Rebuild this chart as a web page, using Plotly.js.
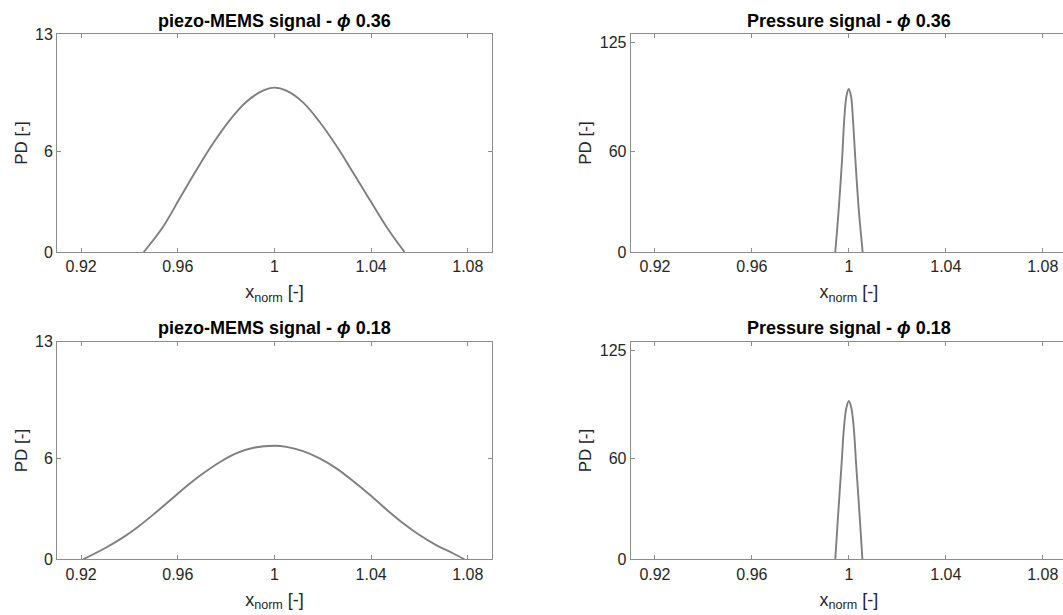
<!DOCTYPE html>
<html><head><meta charset="utf-8">
<script src="https://cdn.plot.ly/plotly-3.0.1.min.js"></script>
<style>html,body{margin:0;padding:0;overflow:hidden;background:#fff;width:1063px;height:615px}#chart{width:1067px;height:615px}</style>
</head><body><div id="chart"></div>
<script>
// ---- data ----
const xTickVals = [0.92, 0.96, 1.00, 1.04, 1.08];
const xTickText = ['0.92', '0.96', '1', '1.04', '1.08'];
const memsTickVals = [0, 6, 13];
const pressTickVals = [0, 60, 125];

const titles = [
  'piezo-MEMS signal - <i>ϕ</i> 0.36',
  'Pressure signal - <i>ϕ</i> 0.36',
  'piezo-MEMS signal - <i>ϕ</i> 0.18',
  'Pressure signal - <i>ϕ</i> 0.18'
];

const mems036X = [0.9459, 0.9539, 0.9608, 0.9677, 0.9746, 0.9815, 0.9884, 0.9952, 1.0000, 1.0049, 1.0118, 1.0187, 1.0256, 1.0325, 1.0394, 1.0463, 1.0538];
const mems036Y = [0, 1.51, 3.20, 4.89, 6.48, 7.87, 8.96, 9.62, 9.80, 9.62, 8.92, 7.75, 6.33, 4.74, 3.12, 1.51, 0];

const press036X = [0.9944, 0.9958, 0.9972, 0.9981, 0.9990, 0.9999, 1.0009, 1.0017, 1.0027, 1.0041, 1.0057];
const press036Y = [0, 25.1, 55.0, 79.0, 92.9, 97.3, 92.9, 79.0, 55.0, 25.1, 0];

const mems018X = [0.9208, 0.9298, 0.9367, 0.9436, 0.9505, 0.9574, 0.9642, 0.9711, 0.9780, 0.9849, 0.9918, 1.0000, 1.0049, 1.0118, 1.0187, 1.0256, 1.0325, 1.0394, 1.0463, 1.0531, 1.0600, 1.0669, 1.0738, 1.0786];
const mems018Y = [0, 0.66, 1.25, 1.95, 2.75, 3.60, 4.44, 5.20, 5.86, 6.37, 6.68, 6.78, 6.72, 6.46, 6.03, 5.43, 4.68, 3.86, 2.98, 2.17, 1.45, 0.85, 0.36, 0];

const press018X = [0.9944, 0.9956, 0.9970, 0.9980, 0.9990, 1.0000, 1.0010, 1.0020, 1.0030, 1.0044, 1.0056];
const press018Y = [0, 27.0, 57.0, 79.0, 90.7, 94.6, 90.7, 79.0, 57.0, 27.0, 0];

// ---- styling ----
const W = 1067, H = 615;
const FONT = 'Liberation Sans, Arial, Helvetica, sans-serif';
const axisColor = '#8c8c8c';
const textColor = '#262626';
const lineColor = '#7f7f7f';

const colL = [57 / W, 492 / W];
const colR = [630.7 / W, 1.0];
const rowT = [1 - 252 / H, 1 - 34 / H];
const rowB = [1 - 559.3 / H, 1 - 341.7 / H];

function xaxis(domain, anchor) {
  return {
    domain: domain, anchor: anchor, range: [0.91, 1.09],
    tickmode: 'array', tickvals: xTickVals, ticktext: xTickText,
    ticks: 'inside', ticklen: 4, tickwidth: 1, tickcolor: axisColor,
    showline: true, linecolor: axisColor, linewidth: 1, mirror: 'ticks',
    showgrid: false, zeroline: false, fixedrange: true,
    tickfont: {family: FONT, size: 16, color: textColor},
    title: {text: 'x<sub>norm</sub> [-]', font: {family: FONT, size: 18, color: textColor}, standoff: 11}
  };
}
function yaxis(domain, anchor, range, tv) {
  return {
    domain: domain, anchor: anchor, range: range,
    tickmode: 'array', tickvals: tv, ticktext: tv.map(String),
    ticks: 'inside', ticklen: 4, tickwidth: 1, tickcolor: axisColor,
    showline: true, linecolor: axisColor, linewidth: 1, mirror: 'ticks',
    showgrid: false, zeroline: false, fixedrange: true,
    tickfont: {family: FONT, size: 16, color: textColor},
    title: {text: 'PD [-]', font: {family: FONT, size: 17, color: textColor}, standoff: 3}
  };
}

function trace(x, y, xa, ya) {
  return {x: x, y: y, xaxis: xa, yaxis: ya, type: 'scatter', mode: 'lines',
          line: {color: lineColor, width: 1.9, shape: 'spline', smoothing: 1},
          hoverinfo: 'skip', showlegend: false};
}

const data = [
  trace(mems036X, mems036Y, 'x', 'y'),
  trace(press036X, press036Y, 'x2', 'y2'),
  trace(mems018X, mems018Y, 'x3', 'y3'),
  trace(press018X, press018Y, 'x4', 'y4')
];

const centers = [
  [(colL[0] + colL[1]) / 2, 1 - 21 / H],
  [(colR[0] + colR[1]) / 2, 1 - 21 / H],
  [(colL[0] + colL[1]) / 2, 1 - 328 / H],
  [(colR[0] + colR[1]) / 2, 1 - 328 / H]
];

const layout = {
  width: W, height: H,
  margin: {l: 0, r: 0, t: 0, b: 0, pad: 0},
  paper_bgcolor: '#ffffff', plot_bgcolor: '#ffffff',
  showlegend: false,
  xaxis: xaxis(colL, 'y'), yaxis: yaxis(rowT, 'x', [0, 13], memsTickVals),
  xaxis2: xaxis(colR, 'y2'), yaxis2: yaxis(rowT, 'x2', [0, 130], pressTickVals),
  xaxis3: xaxis(colL, 'y3'), yaxis3: yaxis(rowB, 'x3', [0, 13], memsTickVals),
  xaxis4: xaxis(colR, 'y4'), yaxis4: yaxis(rowB, 'x4', [0, 130], pressTickVals),
  annotations: titles.map((t, i) => ({
    text: '<b>' + t + '</b>', xref: 'paper', yref: 'paper',
    x: centers[i][0], y: centers[i][1], xanchor: 'center', yanchor: 'middle',
    showarrow: false, font: {family: FONT, size: 18, color: '#000000'}
  }))
};

Plotly.newPlot('chart', data, layout, {staticPlot: true, displayModeBar: false});
</script></body></html>
